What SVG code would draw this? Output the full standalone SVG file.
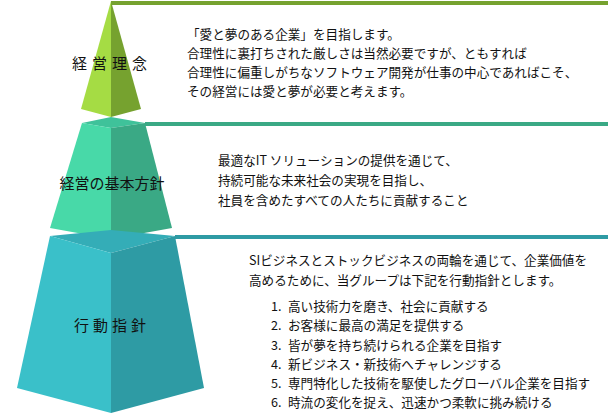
<svg xmlns="http://www.w3.org/2000/svg" width="608" height="417" viewBox="0 0 608 417">
<style>
.t{font-family:"Noto Sans CJK JP","Noto Sans",sans-serif;font-size:12.6px;fill:#111}
.h{font-family:"Noto Sans CJK JP",sans-serif;font-size:15px;fill:#111;text-anchor:middle}
</style>
<rect width="608" height="417" fill="#fff"/>
<g id="connectors">
<line x1="111" y1="3" x2="608" y2="3" stroke="#76a22f" stroke-width="4"/>
<line x1="145" y1="124" x2="608" y2="124" stroke="#3aa985" stroke-width="4"/>
<line x1="175" y1="237" x2="608" y2="237" stroke="#2e9ba4" stroke-width="4"/>
</g>
<g id="tier1">
<polygon points="111,1 81,109 111,117" fill="#a5dc44"/>
<polygon points="111,1 141,109 111,117" fill="#76a22f"/>
<text class="h" x="112" y="69" letter-spacing="5">経営理念</text>
<text class="t" x="187" y="39">「愛と夢のある企業」を目指します。</text>
<text class="t" x="187" y="58">合理性に裏打ちされた厳しさは当然必要ですが、ともすれば</text>
<text class="t" x="187" y="77">合理性に偏重しがちなソフトウェア開発が仕事の中心であればこそ、</text>
<text class="t" x="187" y="96">その経営には愛と夢が必要と考えます。</text>
</g>
<g id="tier2">
<polygon points="82,123 111,117 145,123 111,128" fill="#3fc29a"/>
<polygon points="82,123 111,128 111,239 50,228" fill="#48d9a8"/>
<polygon points="145,123 111,128 111,239 172,228" fill="#3aa985"/>
<text class="h" x="112" y="189">経営の基本方針</text>
<text class="t" x="218" y="165">最適なIT ソリューションの提供を通じて、</text>
<text class="t" x="218" y="185">持続可能な未来社会の実現を目指し、</text>
<text class="t" x="218" y="205">社員を含めたすべての人たちに貢献すること</text>
</g>
<g id="tier3">
<polygon points="50,236 111,230 175,236 111,253" fill="#34adb7"/>
<polygon points="50,236 111,253 111,413 17,388" fill="#3ac0c9"/>
<polygon points="175,236 111,253 111,413 204,388" fill="#2e9ba4"/>
<text class="h" x="112" y="331" letter-spacing="4">行動指針</text>
<text class="t" x="249" y="265">SIビジネスとストックビジネスの両輪を通じて、企業価値を</text>
<text class="t" x="249" y="285">高めるために、当グループは下記を行動指針とします。</text>
<text class="t" x="271" y="311">1.</text><text class="t" x="288" y="311">高い技術力を磨き、社会に貢献する</text>
<text class="t" x="271" y="330">2.</text><text class="t" x="288" y="330">お客様に最高の満足を提供する</text>
<text class="t" x="271" y="350">3.</text><text class="t" x="288" y="350">皆が夢を持ち続けられる企業を目指す</text>
<text class="t" x="271" y="369">4.</text><text class="t" x="288" y="369">新ビジネス・新技術へチャレンジする</text>
<text class="t" x="271" y="388">5.</text><text class="t" x="288" y="388">専門特化した技術を駆使したグローバル企業を目指す</text>
<text class="t" x="271" y="407">6.</text><text class="t" x="288" y="407">時流の変化を捉え、迅速かつ柔軟に挑み続ける</text>
</g>
</svg>
